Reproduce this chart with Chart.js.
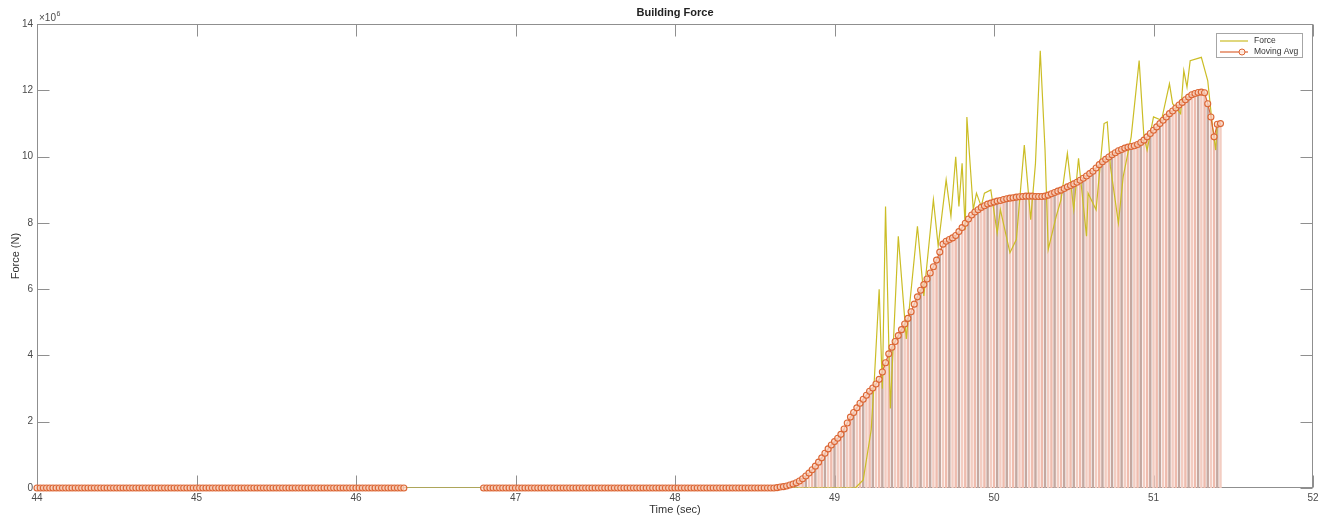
<!DOCTYPE html>
<html>
<head>
<meta charset="utf-8">
<script src="https://cdn.jsdelivr.net/npm/chart.js@4.4.0/dist/chart.umd.min.js"></script>
<style>
  html, body { margin: 0; padding: 0; background: #ffffff; }
  #wrap { width: 1325px; height: 519px; }
</style>
</head>
<body>
<div id="wrap"><canvas id="forceChart" width="1325" height="519"></canvas></div>
<script>
// Sampling grid of the moving average (seconds)
const sampleStart = 44.0;
const sampleStep = 0.02;

// Moving average of building force, in 10^6 N (null = no data)
const movingAvg = [
  0,0,0,0,0,0,0,0,0,0,0,0,0,0,0,0,0,0,0,0,
  0,0,0,0,0,0,0,0,0,0,0,0,0,0,0,0,0,0,0,0,
  0,0,0,0,0,0,0,0,0,0,0,0,0,0,0,0,0,0,0,0,
  0,0,0,0,0,0,0,0,0,0,0,0,0,0,0,0,0,0,0,0,
  0,0,0,0,0,0,0,0,0,0,0,0,0,0,0,0,0,0,0,0,
  0,0,0,0,0,0,0,0,0,0,0,0,0,0,0,0,
  null,null,null,null,null,null,null,null,null,null,null,null,
  null,null,null,null,null,null,null,null,null,null,null,null,
  0,0,0,0,0,0,0,0,0,0,0,0,0,0,0,0,0,0,0,0,
  0,0,0,0,0,0,0,0,0,0,0,0,0,0,0,0,0,0,0,0,
  0,0,0,0,0,0,0,0,0,0,0,0,0,0,0,0,0,0,0,0,
  0,0,0,0,0,0,0,0,0,0,0,0,0,0,0,0,0,0,0,0,
  0,0,0,0,0,0,0,0,0,0,
  0.00,0.00,0.01,0.03,0.04,0.06,0.09,0.12,0.16,0.21,
  0.28,0.36,0.45,0.55,0.66,0.78,0.91,1.05,1.18,1.30,
  1.40,1.50,1.62,1.78,1.96,2.14,2.28,2.42,2.56,2.68,
  2.80,2.92,3.02,3.14,3.28,3.50,3.78,4.05,4.25,4.42,
  4.60,4.78,4.95,5.12,5.32,5.55,5.77,5.97,6.14,6.31,
  6.49,6.68,6.88,7.12,7.36,7.45,7.50,7.55,7.62,7.74,
  7.86,7.99,8.12,8.24,8.33,8.40,8.47,8.52,8.57,8.60,
  8.63,8.66,8.68,8.71,8.73,8.75,8.76,8.78,8.79,8.80,
  8.81,8.81,8.81,8.80,8.80,8.80,8.81,8.84,8.88,8.92,
  8.96,8.99,9.04,9.09,9.13,9.18,9.23,9.29,9.35,9.42,
  9.49,9.56,9.66,9.76,9.85,9.92,9.99,10.06,10.12,10.18,
  10.22,10.26,10.29,10.31,10.33,10.37,10.43,10.50,10.60,10.70,
  10.80,10.90,11.00,11.10,11.20,11.30,11.38,11.47,11.56,11.64,
  11.72,11.80,11.87,11.91,11.94,11.95,11.93,11.60,11.20,10.60,
  10.98,11.00
];

// Raw force samples: time (s) and force (10^6 N)
const forceTime = [
  44.00, 49.13, 49.18, 49.23, 49.25, 49.28, 49.30, 49.32, 49.35, 49.40,
  49.45, 49.52, 49.56, 49.62, 49.65, 49.70, 49.73, 49.76, 49.78, 49.80,
  49.82, 49.83, 49.87, 49.89, 49.92, 49.94, 49.98, 50.02, 50.04, 50.10,
  50.14, 50.19, 50.23, 50.26, 50.29, 50.32, 50.34, 50.39, 50.42, 50.46,
  50.50, 50.53, 50.58, 50.59, 50.64, 50.69, 50.71, 50.73, 50.78, 50.81,
  50.86, 50.91, 50.94, 50.96, 51.00, 51.05, 51.10, 51.12, 51.17, 51.19,
  51.21, 51.23, 51.30, 51.34, 51.37, 51.39, 51.40
];
const forceValue = [
  0, 0, 0.24, 1.75, 3.3, 6.0, 3.0, 8.5, 2.4, 7.6,
  4.5, 7.9, 5.8, 8.7, 7.3, 9.3, 8.2, 10.0, 8.5, 9.8,
  7.8, 11.2, 8.4, 8.9, 8.5, 8.9, 9.0, 7.7, 8.4, 7.1,
  7.5, 10.35, 8.1, 9.8, 13.2, 10.2, 7.2, 8.2, 8.7, 10.1,
  8.4, 9.95, 7.6, 8.9, 8.4, 11.0, 11.05, 9.7, 8.0, 9.4,
  10.6, 12.9, 10.6, 10.2, 11.2, 11.1, 12.2, 11.6, 11.3, 12.6,
  12.1, 12.9, 13.0, 12.3, 10.9, 10.2, 11.0
];

// Axis ticks
const xTicks = [44, 45, 46, 47, 48, 49, 50, 51, 52];
const yTicks = [0, 2, 4, 6, 8, 10, 12, 14];

const FORCE_COLOR = '#cbbd26';
const AVG_COLOR = '#dc6634';
const AXIS_COLOR = '#8f8f8f';
const TEXT_COLOR = '#4a4a4a';
const FONT = "'Liberation Sans', Arial, Helvetica, sans-serif";

const avgPoints = movingAvg.map((v, i) => ({ x: +(sampleStart + i * sampleStep).toFixed(2), y: v }));
const forcePoints = forceTime.map((t, i) => ({ x: t, y: forceValue[i] }));
const stemColors = ['#efbcae', '#c4a8a0', '#f3cdc2'];

// Box around the axes with inward tick marks on all four sides
const axesBox = {
  id: 'axesBox',
  beforeDatasetsDraw(chart) {
    const { ctx, chartArea: a, scales: { x, y } } = chart;
    const L = Math.round(a.left) + 0.5, R = Math.round(a.right) - 0.5;
    const T = Math.round(a.top) + 0.5, B = Math.round(a.bottom) - 0.5;
    const tl = 12;
    ctx.save();
    ctx.strokeStyle = AXIS_COLOR;
    ctx.lineWidth = 1;
    ctx.strokeRect(L, T, R - L, B - T);
    ctx.beginPath();
    xTicks.forEach(v => {
      const px = Math.round(x.getPixelForValue(v)) + 0.5;
      ctx.moveTo(px, B); ctx.lineTo(px, B - tl);
      ctx.moveTo(px, T); ctx.lineTo(px, T + tl);
    });
    yTicks.forEach(v => {
      const py = Math.round(y.getPixelForValue(v)) + 0.5;
      ctx.moveTo(L, py); ctx.lineTo(L + tl, py);
      ctx.moveTo(R, py); ctx.lineTo(R - tl, py);
    });
    ctx.stroke();
    ctx.restore();
  },
  afterDraw(chart) {
    const { ctx, chartArea: a } = chart;
    ctx.save();
    // exponent of the force axis
    ctx.fillStyle = TEXT_COLOR;
    ctx.textBaseline = 'alphabetic';
    ctx.textAlign = 'left';
    ctx.font = '10px ' + FONT;
    const base = '\u00d710';
    ctx.fillText(base, a.left + 2, a.top - 3);
    const w = ctx.measureText(base).width;
    ctx.font = '7px ' + FONT;
    ctx.fillText('6', a.left + 2 + w + 0.5, a.top - 8);

    // legend
    const lx = 1216, ly = 33, lw = 87, lh = 25;
    ctx.fillStyle = '#ffffff';
    ctx.fillRect(lx, ly, lw, lh);
    ctx.strokeStyle = '#a6a6a6';
    ctx.lineWidth = 1;
    ctx.strokeRect(lx + 0.5, ly + 0.5, lw - 1, lh - 1);

    ctx.lineWidth = 1.2;
    ctx.strokeStyle = FORCE_COLOR;
    ctx.beginPath(); ctx.moveTo(lx + 4, ly + 8); ctx.lineTo(lx + 32, ly + 8); ctx.stroke();

    ctx.strokeStyle = AVG_COLOR;
    ctx.beginPath(); ctx.moveTo(lx + 4, ly + 19); ctx.lineTo(lx + 32, ly + 19); ctx.stroke();
    ctx.lineWidth = 1;
    ctx.fillStyle = 'rgba(255,236,226,0.9)';
    ctx.beginPath(); ctx.arc(lx + 26, ly + 19, 3, 0, Math.PI * 2); ctx.fill(); ctx.stroke();

    ctx.fillStyle = '#333333';
    ctx.font = '8.5px ' + FONT;
    ctx.textBaseline = 'middle';
    ctx.fillText('Force', lx + 38, ly + 8);
    ctx.fillText('Moving Avg', lx + 38, ly + 19);
    ctx.restore();
  }
};

Chart.defaults.font.family = FONT;
Chart.defaults.color = TEXT_COLOR;

new Chart(document.getElementById('forceChart'), {
  type: 'line',
  data: {
    datasets: [
      {
        label: 'Moving Avg',
        data: avgPoints,
        order: 1,
        borderColor: AVG_COLOR,
        borderWidth: 1.2,
        pointRadius: 3,
        pointBorderWidth: 1.1,
        pointBorderColor: AVG_COLOR,
        pointBackgroundColor: 'rgba(250,214,196,0.75)',
        tension: 0,
        spanGaps: false,
        clip: false
      },
      {
        label: 'Force',
        data: forcePoints,
        order: 2,
        borderColor: FORCE_COLOR,
        borderWidth: 1.2,
        pointRadius: 0,
        tension: 0
      },
      {
        type: 'bar',
        label: 'Moving Avg stems',
        data: avgPoints,
        order: 3,
        backgroundColor: ctx => stemColors[ctx.dataIndex % stemColors.length],
        borderWidth: 0,
        barThickness: 1.8
      }
    ]
  },
  options: {
    responsive: false,
    animation: false,
    devicePixelRatio: 1,
    events: [],
    layout: { padding: { left: 0, right: 12, top: 0, bottom: 0 } },
    plugins: {
      legend: { display: false },
      tooltip: { enabled: false },
      title: {
        display: true,
        fullSize: false,
        text: 'Building Force',
        color: '#222222',
        font: { size: 11, weight: 'bold', family: FONT },
        padding: { top: 6, bottom: 5 }
      }
    },
    scales: {
      x: {
        type: 'linear',
        min: 44,
        max: 52,
        offset: false,
        afterFit: s => { s.height = 31; },
        afterBuildTicks: s => { s.ticks = xTicks.map(v => ({ value: v })); },
        grid: { display: false, drawTicks: false },
        border: { display: false },
        ticks: { padding: 4, font: { size: 10 }, color: TEXT_COLOR, maxRotation: 0 },
        title: { display: true, text: 'Time (sec)', font: { size: 11 }, color: '#333333', padding: { top: 0, bottom: 2 } }
      },
      y: {
        type: 'linear',
        min: 0,
        max: 14,
        afterFit: s => { s.width = 37; },
        afterBuildTicks: s => { s.ticks = yTicks.map(v => ({ value: v })); },
        grid: { display: false, drawTicks: false },
        border: { display: false },
        ticks: { padding: 4, font: { size: 10 }, color: TEXT_COLOR },
        title: { display: true, text: 'Force (N)', font: { size: 11 }, color: '#333333', padding: { top: 9, bottom: 0 } }
      }
    }
  },
  plugins: [axesBox]
});
</script>
</body>
</html>
